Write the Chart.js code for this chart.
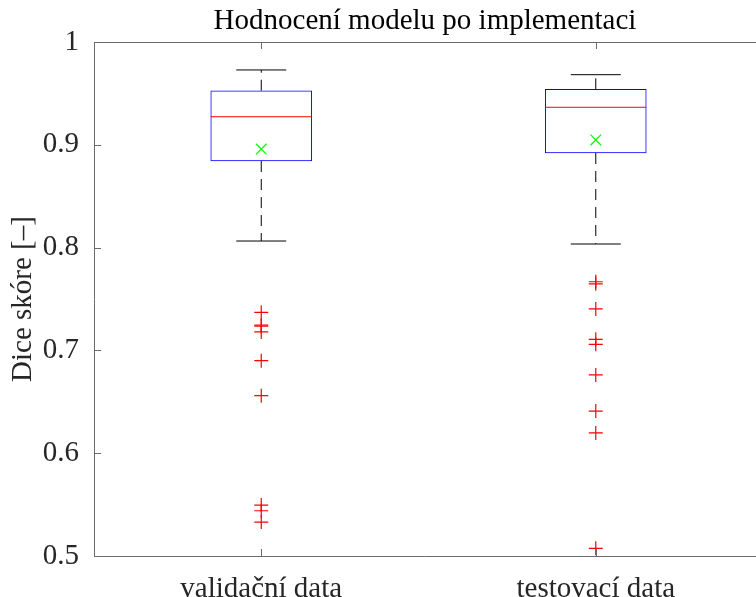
<!DOCTYPE html>
<html>
<head>
<meta charset="utf-8">
<script src="https://cdn.jsdelivr.net/npm/chart.js@4.4.1/dist/chart.umd.min.js"></script>
<style>
  html, body { margin: 0; padding: 0; background: #fff; overflow: hidden; }
  canvas { display: block; }
</style>
</head>
<body>
<canvas id="boxChart" width="756" height="597"></canvas>
<script>
// data
const categories = ['validační data', 'testovací data'];
const positions = [1, 2];
const q1 = [0.8842, 0.8920];
const medians = [0.9273, 0.9365];
const q3 = [0.9526, 0.9540];
const means = [0.8959, 0.9047];
const whiskerLow = [0.8064, 0.8035];
const whiskerHigh = [0.9728, 0.9682];
const outliersVal = [0.737, 0.7245, 0.7235, 0.718, 0.690, 0.656, 0.5495, 0.544, 0.533];
const outliersTest = [0.7668, 0.7648, 0.7403, 0.7108, 0.7059, 0.6761, 0.641, 0.6197, 0.5075];
const yTicks = [0.5, 0.6, 0.7, 0.8, 0.9, 1];

const FONT = 'Liberation Serif';
const TEXT = '#262626';
const AXIS = '#6b6b6b';

// whisker segments (q3 -> high, q1 -> low), gaps between boxes
const whiskerPts = [];
positions.forEach((p, i) => {
    whiskerPts.push({ x: p, y: q3[i] }, { x: p, y: whiskerHigh[i] }, { x: p, y: null });
    whiskerPts.push({ x: p, y: q1[i] }, { x: p, y: whiskerLow[i] }, { x: p, y: null });
});

const outlierPts = [
    ...outliersVal.map(v => ({ x: positions[0], y: v })),
    ...outliersTest.map(v => ({ x: positions[1], y: v }))
];

// MATLAB style box: top border and inward tick marks
const axisBox = {
    id: 'axisBox',
    afterDraw(chart) {
        const { ctx, chartArea, scales } = chart;
        ctx.save();
        ctx.strokeStyle = AXIS;
        ctx.lineWidth = 1;
        ctx.beginPath();
        ctx.moveTo(chartArea.left, chartArea.top + 0.5);
        ctx.lineTo(chartArea.right, chartArea.top + 0.5);
        scales.y.ticks.forEach(t => {
            const py = Math.round(scales.y.getPixelForValue(t.value)) + 0.5;
            ctx.moveTo(chartArea.left, py);
            ctx.lineTo(chartArea.left + 7, py);
        });
        positions.forEach(p => {
            const px = Math.round(scales.x.getPixelForValue(p)) + 0.5;
            ctx.moveTo(px, chartArea.bottom);
            ctx.lineTo(px, chartArea.bottom - 7);
            ctx.moveTo(px, chartArea.top);
            ctx.lineTo(px, chartArea.top + 7);
        });
        ctx.stroke();
        ctx.restore();
    }
};

new Chart(document.getElementById('boxChart'), {
    type: 'bar',
    data: {
        datasets: [
            {
                type: 'line',
                label: 'whiskers',
                data: whiskerPts,
                borderColor: '#000',
                borderWidth: 1,
                borderDash: [11, 7],
                pointRadius: 0,
                spanGaps: false,
                order: 5
            },
            {
                type: 'bar',
                label: 'box',
                data: positions.map((p, i) => ({ x: p, y: [q1[i], q3[i]] })),
                backgroundColor: '#ffffff',
                borderColor: '#0000ff',
                borderWidth: 1,
                borderSkipped: false,
                barThickness: 101,
                order: 4
            },
            {
                type: 'scatter',
                label: 'caps',
                data: positions.flatMap((p, i) => [{ x: p, y: whiskerHigh[i] }, { x: p, y: whiskerLow[i] }]),
                pointStyle: 'line',
                pointRadius: 25,
                borderColor: '#000',
                pointBorderWidth: 1,
                order: 3
            },
            {
                type: 'scatter',
                label: 'median',
                data: positions.map((p, i) => ({ x: p, y: medians[i] })),
                pointStyle: 'line',
                pointRadius: 50.5,
                borderColor: '#ff0000',
                pointBorderWidth: 1,
                order: 2
            },
            {
                type: 'scatter',
                label: 'mean',
                data: positions.map((p, i) => ({ x: p, y: means[i] })),
                pointStyle: 'crossRot',
                pointRadius: 7.5,
                borderColor: '#00ff00',
                pointBorderWidth: 1.2,
                order: 1
            },
            {
                type: 'scatter',
                label: 'outliers',
                data: outlierPts,
                pointStyle: 'cross',
                pointRadius: 7,
                borderColor: '#ff0000',
                pointBorderWidth: 1.2,
                order: 0
            }
        ]
    },
    options: {
        responsive: false,
        animation: false,
        layout: { padding: 0, autoPadding: false },
        plugins: {
            legend: { display: false },
            tooltip: { enabled: false },
            title: {
                display: true,
                text: 'Hodnocení modelu po implementaci',
                fullSize: false,
                color: '#000',
                font: { family: FONT, size: 29, weight: 'normal', lineHeight: 1.2 },
                padding: { top: 4, bottom: 3.2 }
            }
        },
        scales: {
            x: {
                type: 'linear',
                min: 0.5,
                max: 2.479,
                offset: false,
                afterBuildTicks: s => { s.ticks = positions.map(v => ({ value: v })); },
                afterFit: s => { s.height = 41; },
                grid: { display: false },
                border: { display: true, color: AXIS, width: 1 },
                ticks: {
                    padding: 8,
                    color: TEXT,
                    font: { family: FONT, size: 29 },
                    maxRotation: 0,
                    callback: v => categories[positions.indexOf(v)] || ''
                }
            },
            y: {
                min: 0.5,
                max: 1,
                afterBuildTicks: s => { s.ticks = yTicks.map(v => ({ value: v })); },
                afterFit: s => { s.width = 94; },
                grid: { display: false },
                border: { display: true, color: AXIS, width: 1 },
                ticks: {
                    padding: 7,
                    color: TEXT,
                    font: { family: FONT, size: 29 },
                    callback: v => String(Math.round(v * 10) / 10)
                },
                title: {
                    display: true,
                    text: 'Dice skóre [–]',
                    color: TEXT,
                    font: { family: FONT, size: 29 },
                    padding: { top: 6, bottom: 0 }
                }
            }
        }
    },
    plugins: [axisBox]
});
</script>
</body>
</html>
